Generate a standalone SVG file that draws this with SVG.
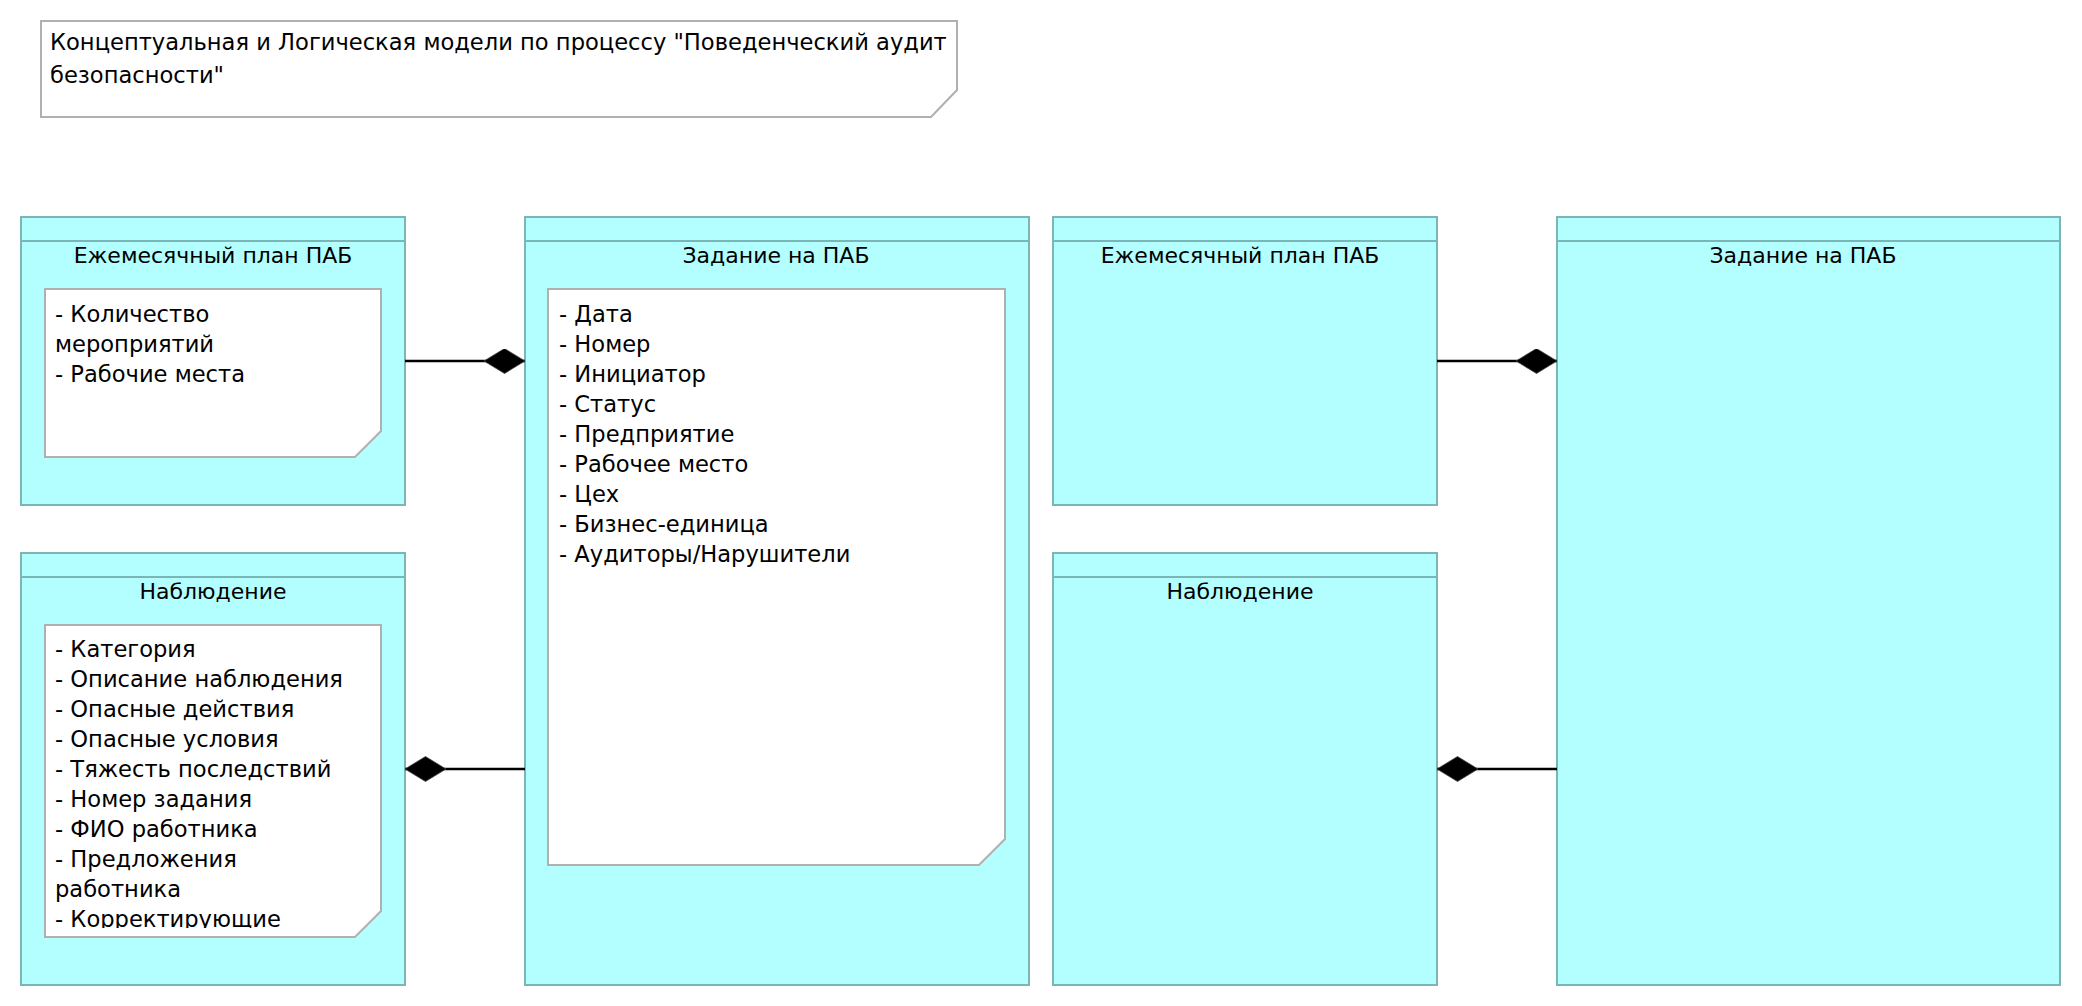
<svg xmlns="http://www.w3.org/2000/svg" width="2082" height="1006" viewBox="0 0 2082 1006">
<style>
text{font-family:"DejaVu Sans","Liberation Sans",sans-serif;font-size:22.6px;fill:#000}
.box{fill:#b3ffff;stroke:#7ab6b6;stroke-width:2}
.hdr{stroke:#7ab6b6;stroke-width:2}
.note{fill:#fff;stroke:#b0b0b0;stroke-width:2}
.ttl{text-anchor:middle;font-size:22px}
.conn{stroke:#000;stroke-width:2.5;fill:none}
</style>
<defs>
<marker id="dia" markerUnits="userSpaceOnUse" markerWidth="42" markerHeight="26" refX="41" refY="12.5" orient="auto">
<path d="M0,12.5 L20.5,0 L41,12.5 L20.5,25 Z" fill="#000" stroke="#444" stroke-width="0.8"/>
</marker>
<clipPath id="clipB"><rect x="45" y="625" width="336" height="303"/></clipPath>
</defs>
<rect width="2082" height="1006" fill="#fff"/>
<g id="title">
<path class="note" d="M41,21 H957 V90 L931,117 H41 Z"/>
<text x="50" y="50">Концептуальная и Логическая модели по процессу "Поведенческий аудит</text>
<text x="50" y="83">безопасности"</text>
</g>
<g id="plan-left">
<rect class="box" x="21" y="217" width="384" height="288"/>
<line class="hdr" x1="21" y1="241" x2="405" y2="241"/>
<text class="ttl" x="213" y="263">Ежемесячный план ПАБ</text>
<path class="note" d="M45,289 H381 V431 L355,457 H45 Z"/>
<text x="55" y="322">- Количество</text>
<text x="55" y="352">мероприятий</text>
<text x="55" y="382">- Рабочие места</text>
</g>
<g id="observation-left">
<rect class="box" x="21" y="553" width="384" height="432"/>
<line class="hdr" x1="21" y1="577" x2="405" y2="577"/>
<text class="ttl" x="213" y="599">Наблюдение</text>
<path class="note" d="M45,625 H381 V911 L355,937 H45 Z"/>
<g clip-path="url(#clipB)">
<text x="55" y="657">- Категория</text>
<text x="55" y="687">- Описание наблюдения</text>
<text x="55" y="717">- Опасные действия</text>
<text x="55" y="747">- Опасные условия</text>
<text x="55" y="777">- Тяжесть последствий</text>
<text x="55" y="807">- Номер задания</text>
<text x="55" y="837">- ФИО работника</text>
<text x="55" y="867">- Предложения</text>
<text x="55" y="897">работника</text>
<text x="55" y="927">- Корректирующие</text>
</g>
</g>
<g id="task-left">
<rect class="box" x="525" y="217" width="504" height="768"/>
<line class="hdr" x1="525" y1="241" x2="1029" y2="241"/>
<text class="ttl" x="776" y="263">Задание на ПАБ</text>
<path class="note" d="M548,289 H1005 V839 L979,865 H548 Z"/>
<text x="559" y="322">- Дата</text>
<text x="559" y="352">- Номер</text>
<text x="559" y="382">- Инициатор</text>
<text x="559" y="412">- Статус</text>
<text x="559" y="442">- Предприятие</text>
<text x="559" y="472">- Рабочее место</text>
<text x="559" y="502">- Цех</text>
<text x="559" y="532">- Бизнес-единица</text>
<text x="559" y="562">- Аудиторы/Нарушители</text>
</g>
<g id="plan-right">
<rect class="box" x="1053" y="217" width="384" height="288"/>
<line class="hdr" x1="1053" y1="241" x2="1437" y2="241"/>
<text class="ttl" x="1240" y="263">Ежемесячный план ПАБ</text>
</g>
<g id="observation-right">
<rect class="box" x="1053" y="553" width="384" height="432"/>
<line class="hdr" x1="1053" y1="577" x2="1437" y2="577"/>
<text class="ttl" x="1240" y="599">Наблюдение</text>
</g>
<g id="task-right">
<rect class="box" x="1557" y="217" width="503" height="768"/>
<line class="hdr" x1="1557" y1="241" x2="2060" y2="241"/>
<text class="ttl" x="1803" y="263">Задание на ПАБ</text>
</g>
<g id="connectors">
<path class="conn" d="M405,361 H525" marker-end="url(#dia)"/>
<path class="conn" d="M525,769 H405" marker-end="url(#dia)"/>
<path class="conn" d="M1437,361 H1557" marker-end="url(#dia)"/>
<path class="conn" d="M1557,769 H1437" marker-end="url(#dia)"/>
</g>
</svg>
